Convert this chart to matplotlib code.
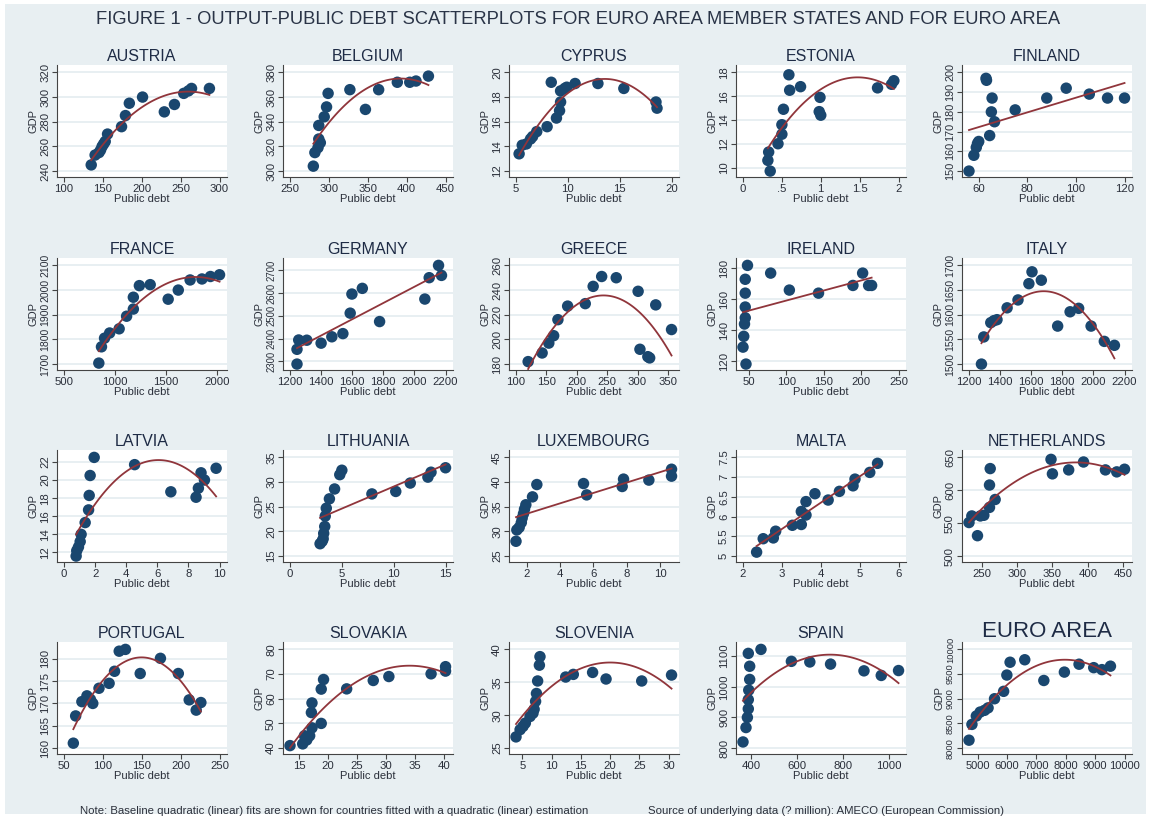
import numpy as np
import matplotlib.pyplot as plt
from matplotlib.patches import Rectangle

plt.rcParams['font.family'] = ['Liberation Sans', 'DejaVu Sans']

# ---- data (public debt, GDP) ----
austria_debt = [135, 140, 145, 147, 149, 151, 153, 156, 174, 179, 184, 201, 229, 242, 254, 260, 264, 287]
austria_gdp = [245, 253, 255, 257, 260, 262, 264, 270, 276, 285, 295, 300, 288, 294, 303, 305, 307, 307]

belgium_debt = [280, 282, 286, 287, 289, 287, 294, 297, 299, 327, 347, 364, 388, 404, 412, 428]
belgium_gdp = [304, 315, 319, 326, 323, 337, 344, 352, 363, 366, 350, 366, 372, 372, 373, 377]

cyprus_debt = [5.3, 5.6, 6.0, 6.4, 6.6, 7.0, 8.0, 8.4, 8.9, 9.2, 9.3, 9.3, 9.7, 9.9, 10.7, 12.9, 15.4, 18.5, 18.6]
cyprus_gdp = [13.4, 14.1, 14.2, 14.6, 14.8, 15.2, 15.6, 19.2, 16.3, 16.9, 17.6, 18.5, 18.7, 18.8, 19.1, 19.1, 18.7, 17.6, 17.1]

estonia_debt = [0.33, 0.32, 0.35, 0.45, 0.50, 0.50, 0.52, 0.59, 0.60, 0.74, 0.98, 1.00, 0.99, 1.73, 1.91, 1.94]
estonia_gdp = [11.3, 10.6, 9.7, 12.0, 12.8, 13.6, 14.9, 17.8, 16.5, 16.8, 14.7, 14.4, 15.9, 16.7, 17.0, 17.3]

finland_debt = [56.0, 58.0, 59.0, 59.5, 60.0, 63.0, 63.2, 64.5, 65.2, 65.5, 66.5, 75.0, 88.0, 96.0, 105.5, 113.0, 120.0]
finland_gdp = [150, 158, 162, 164, 165, 197, 196, 168, 180, 187, 175, 181, 187, 192, 189, 187, 187]

france_debt = [841, 867, 897, 947, 1040, 1113, 1179, 1179, 1238, 1344, 1520, 1619, 1735, 1851, 1934, 2023]
france_gdp = [1704, 1770, 1805, 1826, 1843, 1894, 1923, 1971, 2018, 2022, 1963, 2000, 2041, 2045, 2055, 2062]

germany_debt = [1245, 1245, 1256, 1308, 1400, 1469, 1540, 1587, 1598, 1665, 1776, 2067, 2095, 2155, 2174]
germany_gdp = [2288, 2353, 2394, 2393, 2380, 2408, 2422, 2512, 2596, 2621, 2475, 2574, 2668, 2722, 2678]

greece_debt = [120, 143, 154, 162, 169, 185, 214, 227, 241, 265, 301, 304, 317, 320, 330, 356]
greece_gdp = [182, 189, 197, 203, 216, 227, 229, 243, 251, 250, 239, 192, 186, 185, 228, 208]

ireland_debt = [46, 42, 43, 44, 45, 45, 45, 45, 48, 79, 104, 143, 189, 202, 210, 214]
ireland_gdp = [118, 129, 136, 144, 148, 155, 164, 173, 182, 177, 166, 164, 169, 177, 169, 169]

italy_debt = [1280, 1295, 1340, 1360, 1380, 1445, 1515, 1585, 1605, 1665, 1770, 1850, 1905, 1985, 2070, 2135]
italy_gdp = [1500, 1555, 1584, 1588, 1590, 1614, 1630, 1663, 1687, 1670, 1577, 1606, 1613, 1577, 1546, 1538]

latvia_debt = [0.78, 0.82, 0.93, 1.04, 1.10, 1.36, 1.58, 1.62, 1.68, 1.94, 4.54, 6.87, 8.49, 8.64, 8.81, 9.03, 9.78]
latvia_gdp = [11.6, 12.2, 12.6, 13.2, 14.0, 15.3, 16.7, 18.3, 20.5, 22.5, 21.7, 18.7, 18.1, 19.1, 20.8, 20.0, 21.3]

lithuania_debt = [2.9, 3.1, 3.2, 3.25, 3.35, 3.4, 3.5, 3.8, 4.3, 4.8, 5.0, 7.9, 10.2, 11.6, 13.3, 13.6, 15.0]
lithuania_gdp = [17.5, 18.0, 18.5, 19.6, 21.0, 23.1, 24.7, 26.6, 28.6, 31.5, 32.4, 27.6, 28.1, 29.8, 31.0, 32.0, 32.9]

luxembourg_debt = [1.36, 1.41, 1.55, 1.68, 1.73, 1.81, 1.87, 1.95, 2.35, 2.61, 5.41, 5.60, 7.73, 7.81, 9.33, 10.69, 10.69]
luxembourg_gdp = [28.0, 30.3, 30.8, 31.8, 32.7, 33.6, 34.5, 35.4, 37.0, 39.5, 39.7, 37.4, 39.1, 40.6, 40.4, 41.2, 42.6]

malta_debt = [2.35, 2.52, 2.78, 2.84, 3.27, 3.50, 3.50, 3.62, 3.62, 3.85, 4.19, 4.48, 4.83, 4.88, 5.26, 5.46]
malta_gdp = [5.10, 5.44, 5.46, 5.63, 5.78, 5.80, 6.13, 6.04, 6.38, 6.58, 6.42, 6.64, 6.78, 6.95, 7.12, 7.35]

netherlands_debt = [232, 236, 244, 248, 253, 261, 261, 262, 269, 348, 350, 373, 394, 425, 441, 452]
netherlands_gdp = [551, 561, 531, 561, 562, 574, 608, 633, 586, 647, 625, 631, 643, 631, 628, 632]

portugal_debt = [62, 65, 73, 79.5, 84, 87, 95, 108, 115, 121, 129, 148, 174, 197, 211, 220, 226]
portugal_gdp = [161.1, 167.2, 170.4, 171.7, 170.9, 170.0, 173.4, 174.5, 177.2, 181.7, 182.1, 176.7, 180.1, 176.7, 170.8, 168.5, 170.2]

slovakia_debt = [13.4, 15.6, 15.9, 16.3, 16.8, 17.1, 17.2, 17.2, 18.8, 18.8, 19.2, 23.2, 27.8, 30.5, 37.8, 40.3, 40.3]
slovakia_gdp = [41.0, 41.7, 45.0, 43.3, 45.0, 54.4, 58.3, 48.2, 50.0, 63.9, 67.8, 64.0, 67.4, 69.0, 70.1, 71.2, 73.0]

slovenia_debt = [3.9, 4.6, 5.1, 5.5, 6.3, 6.8, 7.0, 7.25, 7.4, 7.6, 7.9, 8.0, 12.4, 13.7, 17.0, 19.3, 25.4, 30.5]
slovenia_gdp = [26.7, 27.8, 28.3, 28.8, 29.8, 30.3, 30.9, 32.1, 33.3, 35.2, 37.6, 38.9, 35.8, 36.2, 36.5, 35.5, 35.2, 36.1]

spain_debt = [365, 378, 384, 388, 388, 390, 394, 394, 388, 443, 575, 655, 745, 890, 965, 1040]
spain_gdp = [820, 867, 900, 928, 958, 989, 1024, 1067, 1109, 1122, 1083, 1081, 1074, 1052, 1037, 1053]

euro_debt = [4700, 4800, 4950, 5080, 5230, 5350, 5570, 5880, 5990, 6100, 6600, 7250, 7950, 8450, 8950, 9230, 9520]
euro_gdp = [8160, 8480, 8650, 8730, 8765, 8815, 9000, 9150, 9480, 9740, 9790, 9370, 9540, 9700, 9630, 9590, 9660]

# ---- titles, tick labels, fit degree ----
panels = [
    ('AUSTRIA', austria_debt, austria_gdp, [100, 150, 200, 250, 300], [240, 260, 280, 300, 320], 2),
    ('BELGIUM', belgium_debt, belgium_gdp, [250, 300, 350, 400, 450], [300, 320, 340, 360, 380], 2),
    ('CYPRUS', cyprus_debt, cyprus_gdp, [5, 10, 15, 20], [12, 14, 16, 18, 20], 2),
    ('ESTONIA', estonia_debt, estonia_gdp, [0, 0.5, 1, 1.5, 2], [10, 12, 14, 16, 18], 2),
    ('FINLAND', finland_debt, finland_gdp, [60, 80, 100, 120], [150, 160, 170, 180, 190, 200], 1),
    ('FRANCE', france_debt, france_gdp, [500, 1000, 1500, 2000], [1700, 1800, 1900, 2000, 2100], 2),
    ('GERMANY', germany_debt, germany_gdp, [1200, 1400, 1600, 1800, 2000, 2200], [2300, 2400, 2500, 2600, 2700], 1),
    ('GREECE', greece_debt, greece_gdp, [100, 150, 200, 250, 300, 350], [180, 200, 220, 240, 260], 2),
    ('IRELAND', ireland_debt, ireland_gdp, [50, 100, 150, 200, 250], [120, 140, 160, 180], 1),
    ('ITALY', italy_debt, italy_gdp, [1200, 1400, 1600, 1800, 2000, 2200], [1500, 1550, 1600, 1650, 1700], 2),
    ('LATVIA', latvia_debt, latvia_gdp, [0, 2, 4, 6, 8, 10], [12, 14, 16, 18, 20, 22], 2),
    ('LITHUANIA', lithuania_debt, lithuania_gdp, [0, 5, 10, 15], [15, 20, 25, 30, 35], 1),
    ('LUXEMBOURG', luxembourg_debt, luxembourg_gdp, [2, 4, 6, 8, 10], [25, 30, 35, 40, 45], 1),
    ('MALTA', malta_debt, malta_gdp, [2, 3, 4, 5, 6], [5, 5.5, 6, 6.5, 7, 7.5], 1),
    ('NETHERLANDS', netherlands_debt, netherlands_gdp, [250, 300, 350, 400, 450], [500, 550, 600, 650], 2),
    ('PORTUGAL', portugal_debt, portugal_gdp, [50, 100, 150, 200, 250], [160, 165, 170, 175, 180], 2),
    ('SLOVAKIA', slovakia_debt, slovakia_gdp, [15, 20, 25, 30, 35, 40], [40, 50, 60, 70, 80], 2),
    ('SLOVENIA', slovenia_debt, slovenia_gdp, [5, 10, 15, 20, 25, 30], [25, 30, 35, 40], 2),
    ('SPAIN', spain_debt, spain_gdp, [400, 600, 800, 1000], [800, 900, 1000, 1100], 2),
    ('EURO AREA', euro_debt, euro_gdp, [5000, 6000, 7000, 8000, 9000, 10000], [8000, 8500, 9000, 9500, 10000], 2),
]

W, H = 1151, 819
fig = plt.figure(figsize=(W / 100, H / 100), dpi=100, facecolor='white')
fig.patches.append(Rectangle((5 / W, 5 / H), 1141 / W, 810 / H, transform=fig.transFigure,
                             facecolor='#e8eff2', edgecolor='none', zorder=-10))

fig.text(578 / W, 1 - 20 / H,
         'FIGURE 1 - OUTPUT-PUBLIC DEBT SCATTERPLOTS FOR EURO AREA MEMBER STATES AND FOR EURO AREA',
         ha='center', va='center', fontsize=13.2, color='#2a3447')

col_left = [57, 283, 509, 736, 962]
row_top = [65, 258, 450, 642]
pw, ph = 170, 112

navy = '#1a476f'
maroon = '#90353b'
txt = '#2a2f3a'
tick_fs = 8.2


def fmt(v):
    s = ('%g' % v)
    if s.startswith('0.'):
        s = s[1:]
    return s


def fit_size(labels, spacing_px):
    # shrink the labels of an axis only as far as needed so that neighbours do not collide
    widest = max((len(a) + len(b)) / 2 for a, b in zip(labels[:-1], labels[1:]))
    return min(tick_fs, (spacing_px - 1.5) / (widest * 0.556 * 100 / 72))


for i, (name, xd, yd, xt, yt, deg) in enumerate(panels):
    r, c = divmod(i, 5)
    ax = fig.add_axes([col_left[c] / W, 1 - (row_top[r] + ph) / H, pw / W, ph / H])
    ax.set_facecolor('white')
    x = np.array(xd, dtype=float)
    y = np.array(yd, dtype=float)

    # axis ranges: ticks and data, plus a small margin
    xlo, xhi = min(xt[0], x.min()), max(xt[-1], x.max())
    ylo, yhi = min(yt[0], y.min()), max(yt[-1], y.max())
    x0, x1 = xlo - 0.045 * (xhi - xlo), xhi + 0.048 * (xhi - xlo)
    y0, y1 = ylo - 0.06 * (yhi - ylo), yhi + 0.075 * (yhi - ylo)
    ax.set_xlim(x0, x1)
    ax.set_ylim(y0, y1)

    xl = [fmt(v) for v in xt]
    yl = [fmt(v) for v in yt]
    ax.set_xticks(xt)
    ax.set_xticklabels(xl, fontsize=fit_size(xl, pw * (xt[1] - xt[0]) / (x1 - x0)))
    ax.set_yticks(yt)
    ax.set_yticklabels(yl, rotation=90, va='center',
                       fontsize=fit_size(yl, ph * (yt[1] - yt[0]) / (y1 - y0)))
    ax.grid(True, axis='y', color='#e4ecf0', linewidth=1.2)
    ax.set_axisbelow(True)

    ax.scatter(x, y, s=68, color=navy, edgecolors='none', zorder=3)

    coef = np.polyfit(x, y, deg)
    xs = np.linspace(x.min(), x.max(), 100)
    ax.plot(xs, np.polyval(coef, xs), color=maroon, linewidth=1.3, zorder=4)

    for side in ['top', 'right']:
        ax.spines[side].set_visible(False)
    for side in ['left', 'bottom']:
        ax.spines[side].set_color('#444444')
        ax.spines[side].set_linewidth(0.8)
    ax.tick_params(colors='#444444', labelcolor=txt, length=3.5, width=0.8, pad=1.5)
    ax.set_xlabel('Public debt', fontsize=8, color=txt, labelpad=0)
    ax.set_ylabel('GDP', fontsize=8, color=txt, labelpad=1)
    if name == 'EURO AREA':
        ax.set_title(name, fontsize=16, color='#1e2b45', pad=3)
    else:
        ax.set_title(name, fontsize=11.5, color='#1e2b45', pad=3)

fig.text(80 / W, 1 - 811 / H,
         'Note: Baseline quadratic (linear) fits are shown for countries fitted with a quadratic (linear) estimation',
         ha='left', va='center', fontsize=8.2, color=txt)
fig.text(648 / W, 1 - 811 / H,
         'Source of underlying data (? million): AMECO (European Commission)',
         ha='left', va='center', fontsize=8.2, color=txt)

fig.savefig('out.png', dpi=100, facecolor='white')
